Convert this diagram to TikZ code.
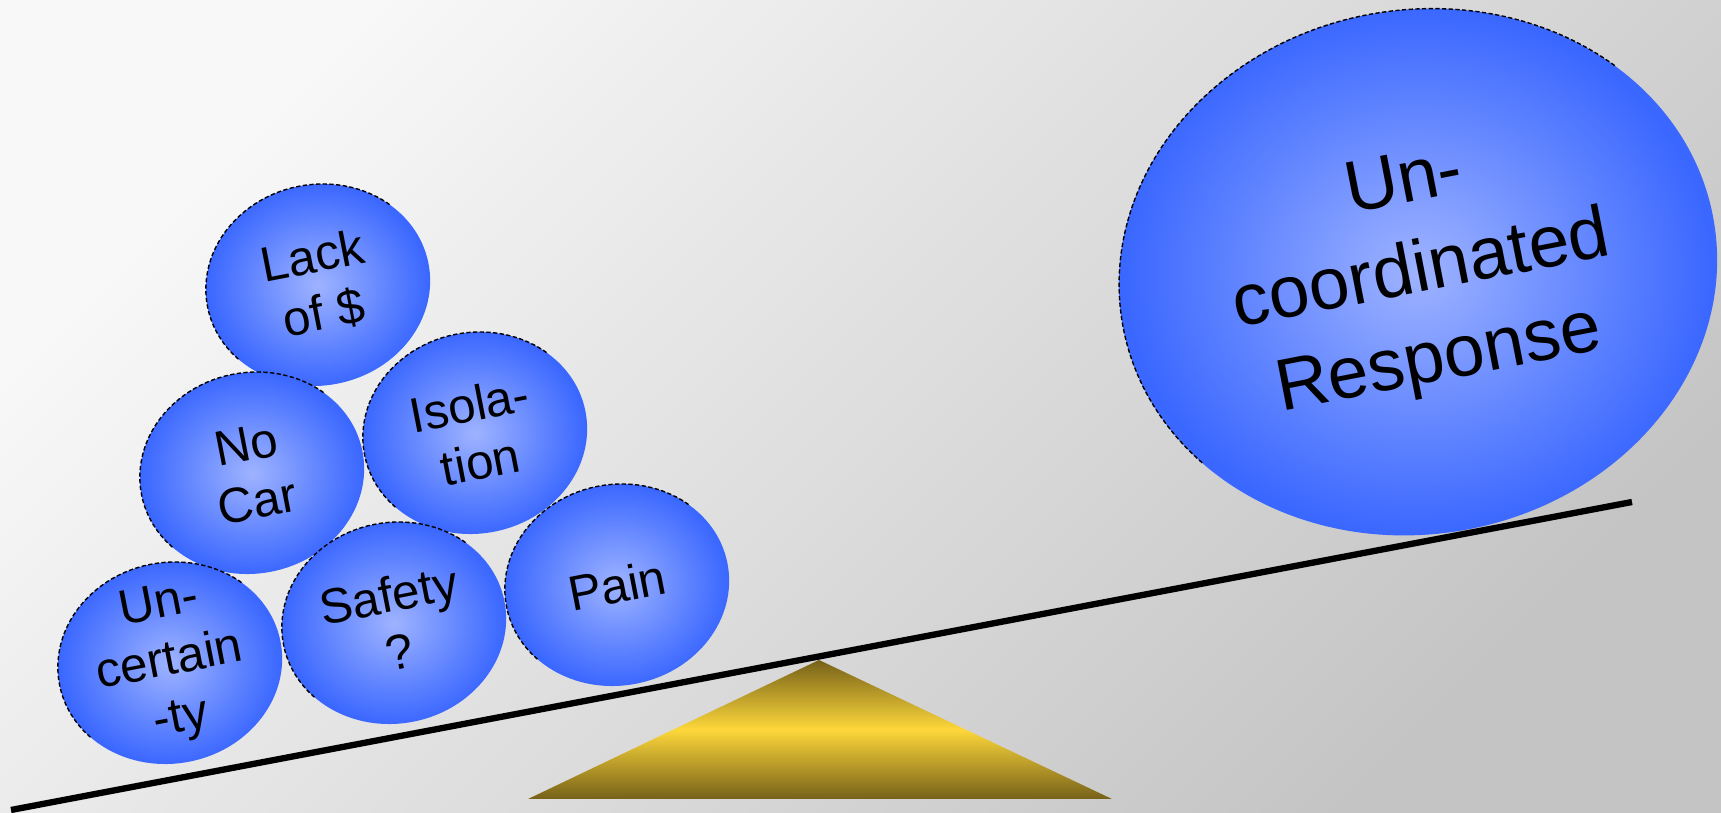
\documentclass[tikz,border=0pt]{standalone}
\usepackage{fontspec}
\setmainfont{Liberation Sans}
\usetikzlibrary{shapes.geometric}
\definecolor{ballout}{HTML}{3A67FF}
\definecolor{ballin}{HTML}{9EB3FF}
\definecolor{golddark}{HTML}{766119}
\definecolor{goldlight}{HTML}{FDD73A}
\definecolor{bgtl}{HTML}{F8F8F8}
\definecolor{bgbr}{HTML}{C4C4C4}
\pgfdeclareradialshading{ballshade}{\pgfpoint{0bp}{0bp}}{color(0bp)=(ballin); color(23bp)=(ballout); color(50bp)=(ballout)}
\begin{document}
\begin{tikzpicture}[x=0.01cm, y=-0.01cm,
  ball/.style={ellipse, shade, shading=ballshade, draw=none, inner sep=0pt,
    minimum width=2.25cm, minimum height=2.01cm, rotate=11},
  bigball/.style={ellipse, shade, shading=ballshade, draw=none, inner sep=0pt,
    minimum width=6.0cm, minimum height=5.24cm, rotate=10},
  balltext/.style={align=center, inner sep=0pt, text=black,
    font=\fontsize{14}{16.5}\selectfont, rotate=11},
  bigtext/.style={align=center, inner sep=0pt, text=black,
    font=\fontsize{20.8}{25.8}\selectfont, rotate=11},
  rim/.style={draw=black, line width=0.4pt, dash pattern=on 1.2pt off 0.7pt},
  lever/.style={draw=black, line width=1.8pt},
  fulcrum/.style={top color=golddark, bottom color=golddark, middle color=goldlight}]
\useasboundingbox (0,0) rectangle (1721,813);
\shade[top color=bgtl, bottom color=bgbr, shading angle=45] (0,0) rectangle (1721,813);

% fulcrum
\coordinate (fa) at (819,660);
\coordinate (fl) at (528,799);
\coordinate (fr) at (1112,799);
\shade[fulcrum] (fa) -- (fr) -- (fl) -- cycle;

% big ball
\node[bigball] (resp) at (1418,272) {};
\draw[rim, rotate around={10:(resp.center)}]
  ([shift={(215:3.0cm and 2.62cm)}]resp.center)
  arc[start angle=215, end angle=40, x radius=3.0cm, y radius=2.62cm];
\node[bigtext] at ([shift={(4,2)}]resp.center) {Un-\\coordinated\\Response};

% small balls
\node[ball] (lack) at (318,285) {};
\node[ball] (nocar) at (252,473) {};
\node[ball] (iso) at (475,433) {};
\node[ball] (pain) at (617,585) {};
\node[ball] (safety) at (394,623) {};
\node[ball] (unc) at (170,663) {};
\foreach \b in {lack,nocar,iso,pain,safety,unc}{
  \draw[rim, rotate around={11:(\b.center)}]
    ([shift={(215:1.125cm and 1.005cm)}]\b.center)
    arc[start angle=215, end angle=40, x radius=1.125cm, y radius=1.005cm];
}
\node[balltext] at (lack.center) {Lack\\of \$};
\node[balltext] at (nocar.center) {No\\Car};
\node[balltext] at (iso.center) {Isola-\\tion};
\node[balltext] at (pain.center) {Pain};
\node[balltext] at (safety.center) {Safety\\?};
\node[balltext] at (unc.center) {Un-\\certain\\-ty};

% lever
\coordinate (lvL) at (11,810);
\coordinate (lvR) at (1632,502);
\draw[lever] (lvL) -- (lvR);
\end{tikzpicture}
\end{document}
